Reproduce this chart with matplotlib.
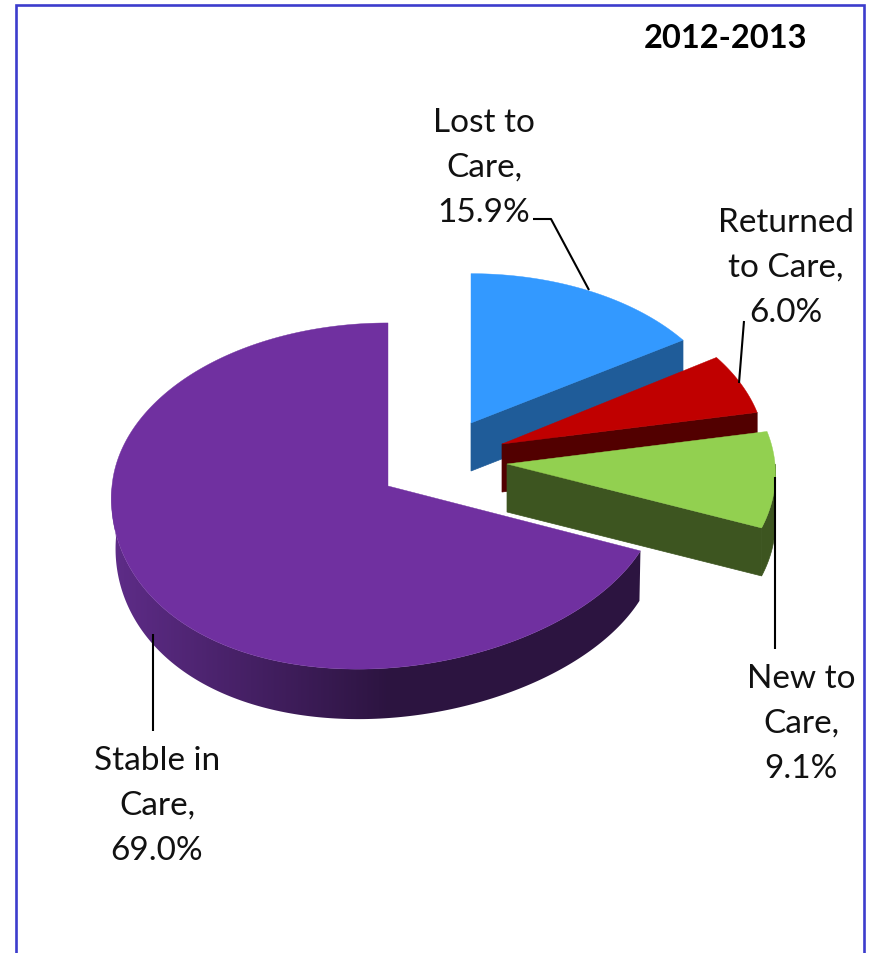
import numpy as np
import matplotlib
matplotlib.use("Agg")
import matplotlib.pyplot as plt
from matplotlib.colors import LinearSegmentedColormap
from matplotlib.patches import Polygon

plt.rcParams['font.family'] = ['Lato', 'DejaVu Sans']

title = "2012-2013"
names = ["Lost to\nCare", "Returned\nto Care", "New to\nCare", "Stable in\nCare"]
values = [15.9, 6.0, 9.1, 69.0]

top_colors = ["#3399FF", "#C00000", "#92D050", "#7030A0"]
side_colors = ["#1F5C99", "#520000", "#3D5520", "#2C1440"]

# pixel layout of each exploded slice: apex x, apex y, radius right, radius left, radius y, shear
layout = [(471, 424, 260, 260, 158, 0),
          (502, 445, 263, 263, 165, 0),
          (507, 465, 268, 268, 170, 0),
          (388, 487, 270, 276, 172.5, 30)]
depths = [48, 48, 48, 50]
persp = 0.058

label_pos = [(484, 168), (786, 268), (801, 724), (157, 806)]
leaders = [[(533, 220), (551, 220), (589, 291)],
           [(744, 322), (739, 384)],
           [(775, 478), (775, 650)],
           [(153, 635), (153, 732)]]


def rim(i, theta):
    ax_, ay, rr, rl, ry, h = layout[i]
    s = 1 / (1 + persp * np.cos(theta))
    rx = np.where(np.sin(theta) > 0, rr, rl)
    x = ax_ + rx * np.sin(theta) * s - h * np.minimum(np.cos(theta), 0) ** 2
    y = ay - ry * np.cos(theta) * s
    return x, y


fig = plt.figure(figsize=(8.7, 9.54), dpi=100)
ax = fig.add_axes([0, 0, 1, 1])

# frame, open at the bottom
ax.plot([16.5, 16.5, 864.5, 864.5], [954, 6, 6, 954], color="#3C3CCC", lw=1.9, solid_joinstyle="miter")

starts = np.cumsum([0] + values[:-1]) * 3.6
spans = np.array(values) * 3.6

for i in range(len(values)):
    a0 = np.radians(starts[i])
    a1 = np.radians(starts[i] + spans[i])
    theta = np.linspace(a0, a1, 300)
    x, y = rim(i, theta)
    cx, cy = layout[i][:2]
    depth = depths[i]

    if i < 3:
        # cut face towards the viewer, along the clockwise edge
        ex, ey = x[-1], y[-1]
        ax.fill([cx, ex, ex, cx], [cy, ey, ey + depth, cy + depth], color=side_colors[i], lw=0.5, zorder=i + 1)
        # outer rim, only the part below the widest point shows
        front = theta >= np.pi / 2
        if front.any():
            fx, fy = x[front], y[front]
            ax.fill(np.r_[fx, fx[::-1]], np.r_[fy, fy[::-1] + depth], color=side_colors[i], lw=0.5, zorder=i + 1)
    else:
        front = theta <= 1.5 * np.pi
        fx, fy = x[front], y[front]
        bx = cx + (fx - cx) * np.where(fx < cx, 0.985, 0.996)
        side = np.c_[np.r_[fx, bx[::-1]], np.r_[fy, fy[::-1] + depth]]
        cmap = LinearSegmentedColormap.from_list("side", ["#5E2C88", side_colors[i]])
        grad = np.clip((np.arange(100, 660) - 112) / (390 - 112), 0, 1).reshape(1, -1)
        im = ax.imshow(grad, extent=(100, 660, 740, 480), cmap=cmap, vmin=0, vmax=1, aspect="auto", zorder=i + 1)
        clip = Polygon(side, closed=True, transform=ax.transData, fc="none", ec="none")
        ax.add_patch(clip)
        im.set_clip_path(clip)

    ax.fill(np.r_[cx, x], np.r_[cy, y], color=top_colors[i], lw=0.3, zorder=i + 1.5)

for pts in leaders:
    ax.plot(*zip(*pts), color="black", lw=1.5, zorder=8, solid_capstyle="butt")

for name, val, (lx, ly) in zip(names, values, label_pos):
    ax.text(lx, ly, f"{name},\n{val:.1f}%", ha="center", va="center", fontsize=24, color="#111111", linespacing=1.62, zorder=9)

ax.text(726, 38, title, ha="center", va="center", fontsize=23.5, fontweight="bold", color="black", zorder=9)

ax.set_xlim(0, 870)
ax.set_ylim(954, 0)
ax.axis("off")

fig.savefig("out.png", dpi=100)
